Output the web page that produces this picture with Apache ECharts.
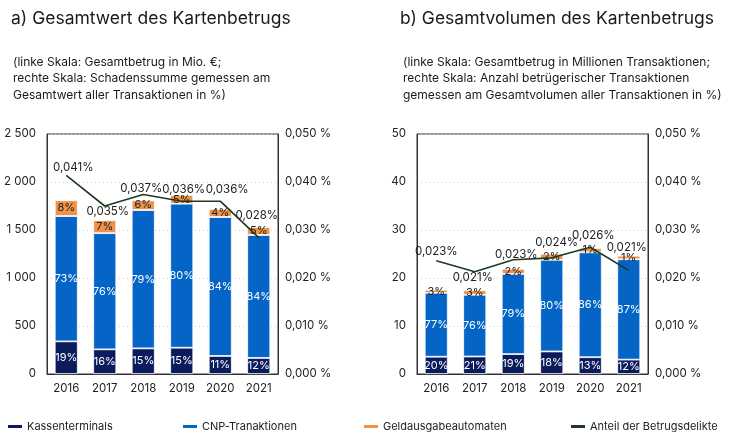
<!DOCTYPE html>
<html>
<head>
<meta charset="utf-8">
<script src="https://cdn.jsdelivr.net/npm/echarts@6/dist/echarts.min.js"></script>
<style>
html,body{margin:0;padding:0;background:#fff;}
#c{width:734px;height:444px;}
</style>
</head>
<body>
<div id="c"></div>
<script>
// ---------- data ----------
var years = ['2016', '2017', '2018', '2019', '2020', '2021'];

// a) Gesamtwert (Mio. €)
var kasseA = [340, 257, 267, 274, 188, 167];
var cnpA   = [1305, 1210, 1441, 1500, 1447, 1281];
var atmA   = [165, 135, 101, 91, 85, 83];
var kassePctA = ['19%', '16%', '15%', '15%', '11%', '12%'];
var cnpPctA   = ['73%', '76%', '79%', '80%', '84%', '84%'];
var atmPctA   = ['8%', '7%', '6%', '5%', '4%', '5%'];
var shareA      = [0.0414, 0.0350, 0.0374, 0.0360, 0.0360, 0.0284];
var shareLabelA = ['0,041%', '0,035%', '0,037%', '0,036%', '0,036%', '0,028%'];

// b) Gesamtvolumen (Mio. Transaktionen)
var kasseB = [3.6, 3.65, 4.15, 4.7, 3.5, 3.0];
var cnpB   = [13.3, 12.85, 16.7, 19.1, 21.85, 20.9];
var atmB   = [0.65, 0.95, 1.05, 1.25, 0.9, 0.75];
var kassePctB = ['20%', '21%', '19%', '18%', '13%', '12%'];
var cnpPctB   = ['77%', '76%', '79%', '80%', '86%', '87%'];
var atmPctB   = ['3%', '3%', '2%', '2%', '1%', '1%'];
var shareB      = [0.0236, 0.0213, 0.0238, 0.0242, 0.0264, 0.0216];
var shareLabelB = ['0,023%', '0,021%', '0,023%', '0,024%', '0,026%', '0,021%'];

var leftTicksA = [0, 500, 1000, 1500, 2000, 2500];
var leftTicksB = [0, 10, 20, 30, 40, 50];

// ---------- styles ----------
var FONT = 'Inter';
var C_KASSE = '#0b1b5c', C_CNP = '#0565c6', C_ATM = '#f09248', C_LINE = '#1d3b1f';
var offA = [[7, -8], [3, 6], [-2, -6], [2, -12], [7, -12], [-2, -22]];
var offB = [[0, -9], [-2, 6], [3, -5], [5, -15], [3, -12], [-2, -23]];

function thousand(v) { return String(v).replace(/\B(?=(\d{3})+(?!\d))/g, ' '); }
function pctAxis(v) { return v.toFixed(3).replace('.', ',') + ' %'; }

function gridDef(left) {
  return { left: left, width: 231, top: 134, height: 240, show: true, borderColor: '#333', borderWidth: 1, containLabel: false };
}
function xAxisDef(i) {
  return {
    type: 'category', gridIndex: i, data: years,
    axisLine: { show: true, lineStyle: { color: '#333', width: 1 } },
    axisTick: { show: false },
    axisLabel: { color: '#222', fontSize: 11.5, fontFamily: FONT, margin: 9 }
  };
}
function yLeft(i, ticks, fmt) {
  return {
    type: 'value', gridIndex: i, min: ticks[0], max: ticks[ticks.length - 1],
    interval: ticks[1] - ticks[0], position: 'left',
    axisLine: { show: true, lineStyle: { color: '#333' } },
    axisTick: { show: false },
    axisLabel: { color: '#222', fontSize: 11.5, fontFamily: FONT, margin: 11, formatter: fmt },
    splitLine: { show: true, lineStyle: { color: '#d0d0d0', type: [1, 3] } }
  };
}
function yRight(i) {
  return {
    type: 'value', gridIndex: i, min: 0, max: 0.05, interval: 0.01, position: 'right',
    axisLine: { show: true, lineStyle: { color: '#333' } },
    axisTick: { show: false },
    axisLabel: { color: '#222', fontSize: 11.5, fontFamily: FONT, margin: 7, formatter: pctAxis },
    splitLine: { show: false }
  };
}
function barSeries(name, vals, labels, color, labelColor, xi, yi) {
  return {
    name: name, type: 'bar', stack: 'g' + xi, xAxisIndex: xi, yAxisIndex: yi,
    barWidth: 23, data: vals,
    itemStyle: { color: color, borderColor: '#fff', borderWidth: 0.8 },
    label: {
      show: true, position: 'inside', color: labelColor, fontSize: 11, fontFamily: FONT,
      formatter: function (p) { return labels[p.dataIndex]; }
    },
    emphasis: { disabled: true }
  };
}
function lineSeries(vals, labels, offs, xi, yi) {
  return {
    name: 'Anteil der Betrugsdelikte', type: 'line', xAxisIndex: xi, yAxisIndex: yi,
    data: vals.map(function (v, k) {
      return { value: v, label: { offset: offs[k] } };
    }),
    symbol: 'circle', symbolSize: 0.1, showSymbol: true, z: 5,
    lineStyle: { color: C_LINE, width: 1.6 }, itemStyle: { color: C_LINE },
    label: {
      show: true, position: 'inside', color: '#222', fontSize: 11.5, fontFamily: FONT,
      formatter: function (p) { return labels[p.dataIndex]; }
    },
    emphasis: { disabled: true }
  };
}
function legendDef(left, name, color) {
  return {
    left: left, top: 421, padding: 0, data: [{ name: name, icon: 'rect', itemStyle: { color: color, borderWidth: 0 } }],
    itemWidth: 14, itemHeight: 3, itemGap: 0,
    itemStyle: { borderWidth: 0 },
    textStyle: { color: '#222', fontSize: 11, fontFamily: FONT }, selectedMode: false
  };
}

var chart = echarts.init(document.getElementById('c'), null, { renderer: 'canvas' });
chart.setOption({
  animation: false,
  backgroundColor: '#fff',
  textStyle: { fontFamily: FONT },
  title: [
    { text: 'a) Gesamtwert des Kartenbetrugs', left: 6, top: 5, textStyle: { fontSize: 17.5, fontWeight: 'normal', color: '#1a1a1a', fontFamily: FONT } },
    { text: 'b) Gesamtvolumen des Kartenbetrugs', left: 395, top: 5, textStyle: { fontSize: 17.5, fontWeight: 'normal', color: '#1a1a1a', fontFamily: FONT } },
    { text: '(linke Skala: Gesamtbetrug in Mio. €;\nrechte Skala: Schadenssumme gemessen am\nGesamtwert aller Transaktionen in %)', left: 8, top: 49,
      textStyle: { fontSize: 12, fontWeight: 'normal', color: '#1a1a1a', lineHeight: 16.5, fontFamily: FONT } },
    { text: '(linke Skala: Gesamtbetrug in Millionen Transaktionen;\nrechte Skala: Anzahl betrügerischer Transaktionen\ngemessen am Gesamtvolumen aller Transaktionen in %)', left: 398, top: 49,
      textStyle: { fontSize: 12, fontWeight: 'normal', color: '#1a1a1a', lineHeight: 16.5, fontFamily: FONT } }
  ],
  legend: [
    legendDef(8, 'Kassenterminals', C_KASSE),
    legendDef(183, 'CNP-Tranaktionen', C_CNP),
    legendDef(364, 'Geldausgabeautomaten', C_ATM),
    legendDef(571, 'Anteil der Betrugsdelikte', C_LINE)
  ],
  grid: [gridDef(47), gridDef(417)],
  xAxis: [xAxisDef(0), xAxisDef(1)],
  yAxis: [yLeft(0, leftTicksA, thousand), yRight(0), yLeft(1, leftTicksB, function (v) { return String(v); }), yRight(1)],
  series: [
    barSeries('Kassenterminals', kasseA, kassePctA, C_KASSE, '#fff', 0, 0),
    barSeries('CNP-Tranaktionen', cnpA, cnpPctA, C_CNP, '#fff', 0, 0),
    barSeries('Geldausgabeautomaten', atmA, atmPctA, C_ATM, '#222', 0, 0),
    lineSeries(shareA, shareLabelA, offA, 0, 1),
    barSeries('Kassenterminals', kasseB, kassePctB, C_KASSE, '#fff', 1, 2),
    barSeries('CNP-Tranaktionen', cnpB, cnpPctB, C_CNP, '#fff', 1, 2),
    barSeries('Geldausgabeautomaten', atmB, atmPctB, C_ATM, '#222', 1, 2),
    lineSeries(shareB, shareLabelB, offB, 1, 3)
  ]
});
</script>
</body>
</html>
